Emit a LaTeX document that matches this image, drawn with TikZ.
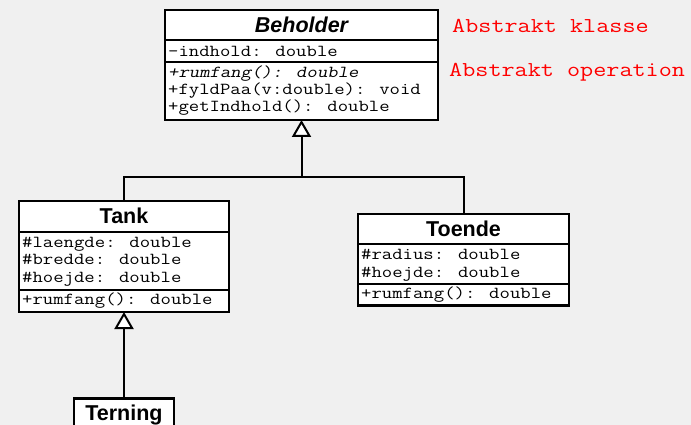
\documentclass[tikz,border=0pt]{standalone}
\usepackage{fontspec}
\usetikzlibrary{arrows.meta}
\newfontfamily\headfam{Liberation Sans}
\newfontfamily\codefam{Latin Modern Mono}[FakeStretch=1.2]
\newfontfamily\codeslant{Latin Modern Mono}[FakeStretch=1.2, FakeSlant=0.2]
\definecolor{canvas}{RGB}{240,240,240}
\definecolor{notered}{RGB}{255,0,0}
\tikzset{
  classbox/.style={draw, line width=2.5pt, fill=white, rectangle, inner sep=0pt, outer sep=0pt, anchor=north west},
  classtitle/.style={anchor=base, inner sep=0pt, font=\headfam\bfseries\fontsize{21.5}{24}\selectfont},
  member/.style={anchor=base west, inner sep=0pt, font=\codefam\fontsize{16.8}{17}\selectfont},
  abstractop/.style={member, font=\codeslant\fontsize{16.8}{17}\selectfont},
  note/.style={anchor=base west, inner sep=0pt, text=notered, font=\codefam\fontsize{21.2}{24}\selectfont},
  sepline/.style={line width=2pt},
  link/.style={line width=2pt},
  inherit/.style={link, -{Triangle[length=17pt, width=19pt, fill=white]}}
}
\begin{document}
\begin{tikzpicture}[x=1pt, y=-1pt]
  % canvas
  \fill[canvas] (0,0) rectangle (691,425);
  \useasboundingbox (0,0) rectangle (691,425);
  \clip (0,0) rectangle (691,425);

  % --- Beholder (abstract) ---
  \node[classbox, minimum width=273pt, minimum height=110pt] (beholder) at (165,10) {};
  \draw[sepline] (beholder.west |- 0,40) -- (beholder.east |- 0,40);
  \draw[sepline] (beholder.west |- 0,62) -- (beholder.east |- 0,62);
  \node[classtitle] (beholder-title) at (301.5,32.8) {\itshape Beholder};
  \node[member] (beholder-a1) at (168,56.7) {-indhold: double};
  \node[abstractop] (beholder-o1) at (168,77.7) {+rumfang(): double};
  \node[member] (beholder-o2) at (168,94.7) {+fyldPaa(v:double): void};
  \node[member] (beholder-o3) at (168,111.7) {+getIndhold(): double};

  % --- Tank ---
  \node[classbox, minimum width=210pt, minimum height=111pt] (tank) at (19,201) {};
  \draw[sepline] (tank.west |- 0,232) -- (tank.east |- 0,232);
  \draw[sepline] (tank.west |- 0,289.5) -- (tank.east |- 0,289.5);
  \node[classtitle] (tank-title) at (124,223.5) {Tank};
  \node[member] (tank-a1) at (22,247.5) {\#laengde: double};
  \node[member] (tank-a2) at (22,264.8) {\#bredde: double};
  \node[member] (tank-a3) at (22,282) {\#hoejde: double};
  \node[member] (tank-o1) at (22,304.2) {+rumfang(): double};

  % --- Toende ---
  \node[classbox, minimum width=211pt, minimum height=91.5pt] (toende) at (358,214) {};
  \draw[sepline] (toende.west |- 0,244) -- (toende.east |- 0,244);
  \draw[sepline] (toende.west |- 0,283.5) -- (toende.east |- 0,283.5);
  \node[classtitle] (toende-title) at (463.5,236.8) {Toende};
  \node[member] (toende-a1) at (361,259.5) {\#radius: double};
  \node[member] (toende-a2) at (361,277.5) {\#hoejde: double};
  \node[member] (toende-o1) at (361,298.8) {+rumfang(): double};

  % --- Terning ---
  \node[classbox, minimum width=100pt, minimum height=40pt] (terning) at (74,398.5) {};
  \node[classtitle] (terning-title) at (124,420) {Terning};

  % --- generalisation ---
  \coordinate (bus) at (301.5,177);
  \draw[link] (tank.north) |- (bus) -| (toende.north);
  \draw[inherit] (bus) -- (beholder.south);
  \draw[inherit] (terning.north) -- (tank.south);

  % --- annotations ---
  \node[note] (note-class) at (452,32.7) {Abstrakt klasse};
  \node[note] (note-op) at (449,77) {Abstrakt operation};
\end{tikzpicture}
\end{document}
